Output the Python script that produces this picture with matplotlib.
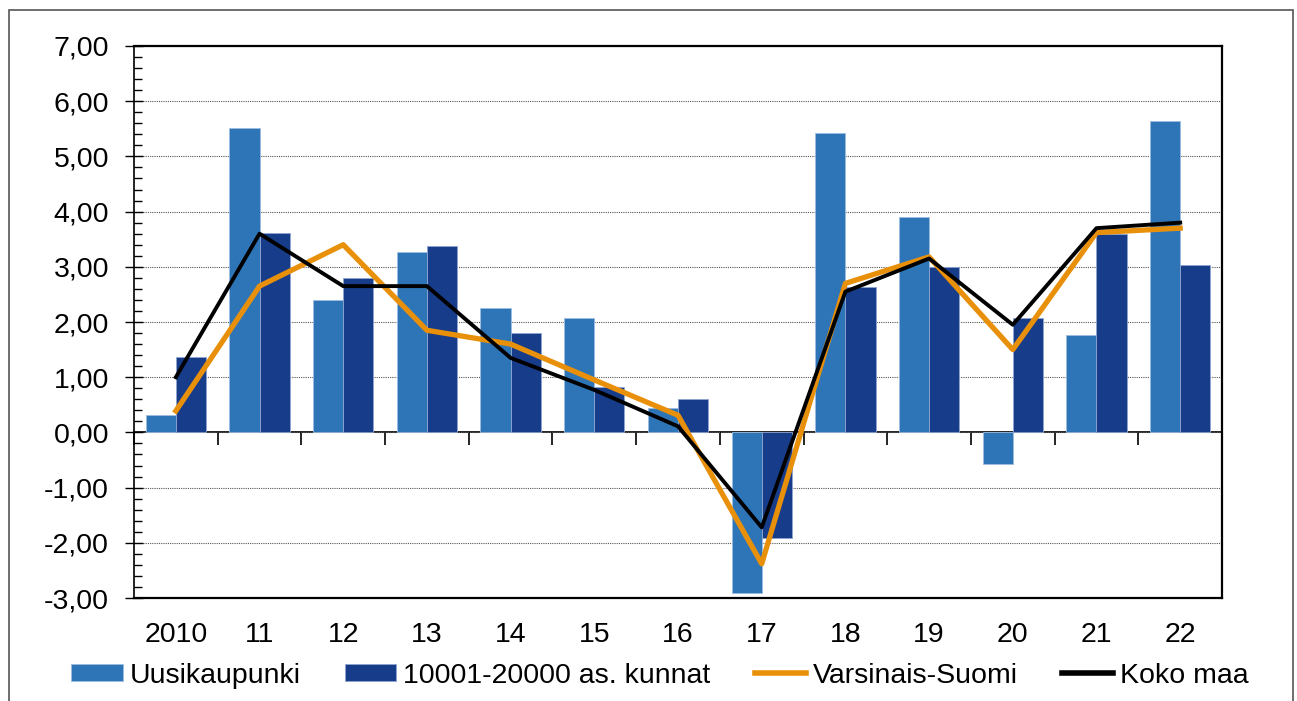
import matplotlib
matplotlib.use('Agg')
import matplotlib.pyplot as plt
import numpy as np
from matplotlib.patches import Rectangle
from matplotlib.ticker import MultipleLocator, FuncFormatter

years = ['2010', '11', '12', '13', '14', '15', '16', '17', '18', '19', '20', '21', '22']
uusikaupunki = [0.31, 5.52, 2.39, 3.26, 2.26, 2.08, 0.44, -2.90, 5.42, 3.90, -0.58, 1.76, 5.64]
kunnat = [1.37, 3.62, 2.79, 3.37, 1.80, 0.82, 0.61, -1.91, 2.63, 2.99, 2.08, 3.60, 3.04]
varsinais_suomi = [0.39, 2.65, 3.40, 1.85, 1.60, 0.95, 0.31, -2.38, 2.70, 3.18, 1.50, 3.62, 3.70]
koko_maa = [1.00, 3.60, 2.65, 2.65, 1.35, 0.77, 0.11, -1.72, 2.55, 3.15, 1.95, 3.70, 3.80]

plt.rcParams['font.family'] = ['Liberation Sans', 'DejaVu Sans']
plt.rcParams['font.size'] = 20.5

fig = plt.figure(figsize=(12.97, 7.01), dpi=100)
ax = fig.add_axes([0.1033, 0.1469, 0.8389, 0.7875])
fig.patches.append(Rectangle((0.007, -0.01), 0.99, 0.996, transform=fig.transFigure,
                             fill=False, edgecolor='#555555', linewidth=1.2))

x = np.arange(len(years))
w = 0.36
b1 = ax.bar(x - w / 2, uusikaupunki, w, color='#2E75B8', edgecolor='#9DBDE0',
            linewidth=0.6, label='Uusikaupunki', zorder=2)
b2 = ax.bar(x + w / 2, kunnat, w, color='#173C8A', edgecolor='#8FA6CF',
            linewidth=0.6, label='10001-20000 as. kunnat', zorder=2)
l1, = ax.plot(x, varsinais_suomi, color='#E8900A', linewidth=3.8, label='Varsinais-Suomi', zorder=3)
l2, = ax.plot(x, koko_maa, color='black', linewidth=2.8, label='Koko maa', zorder=4)

ax.set_xlim(-0.5, len(years) - 0.5)
ax.set_ylim(-3, 7)
ax.yaxis.set_major_locator(MultipleLocator(1))
ax.yaxis.set_minor_locator(MultipleLocator(0.2))
ax.yaxis.set_major_formatter(FuncFormatter(lambda v, p: f'{v:.2f}'.replace('.', ',')))
ax.tick_params(axis='y', which='major', direction='inout', length=13, width=1, pad=11.5)
ax.tick_params(axis='y', which='minor', direction='in', length=5.5, width=1)
ax.set_xticks(x)
ax.set_xticklabels(years)
ax.tick_params(axis='x', length=0, pad=17)
ax.grid(axis='y', which='major', color='#555555', linestyle=(0, (1, 1)), linewidth=0.8, zorder=0)
ax.set_axisbelow(True)
for s in ax.spines.values():
    s.set_linewidth(1.6)
ax.spines['left'].set_linewidth(1.2)

# zero line with category boundary ticks
sec = ax.secondary_xaxis(0.3)
sec.set_xticks(np.arange(len(years) + 1) - 0.5)
sec.set_xticklabels([])
sec.tick_params(direction='out', length=9, width=1.2)
sec.spines['bottom'].set_linewidth(1.2)

leg = fig.legend([b1, b2, l1, l2],
                 ['Uusikaupunki', '10001-20000 as. kunnat', 'Varsinais-Suomi', 'Koko maa'],
                 loc='center', bbox_to_anchor=(0.509, 0.036), ncol=4, frameon=False,
                 handlelength=1.8, handleheight=0.55, handletextpad=0.25, columnspacing=1.55,
                 fontsize=20.5)
for h in leg.get_lines():
    h.set_linewidth(4)

fig.savefig('out.png', dpi=100)
